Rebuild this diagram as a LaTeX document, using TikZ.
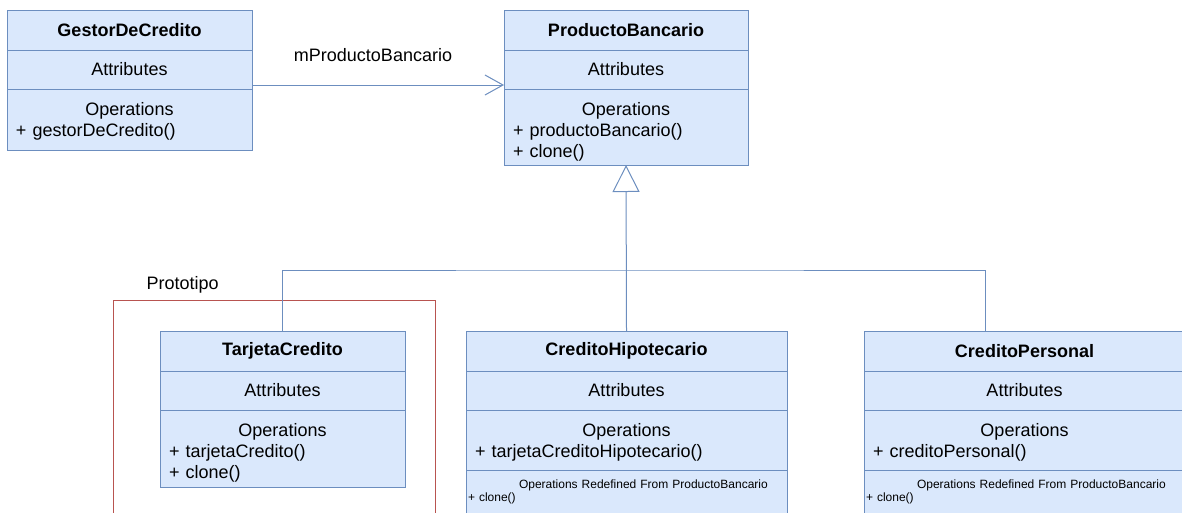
\documentclass[tikz,border=0pt]{standalone}
\usepackage{fontspec}
\setmainfont{Liberation Sans}
\usepackage{tikz}
\usetikzlibrary{positioning, arrows.meta}
\setlength{\parindent}{0pt}
\definecolor{umlfill}{HTML}{DAE8FC}
\definecolor{umldraw}{HTML}{6C8EBF}
\definecolor{protored}{HTML}{B85450}
\tikzset{
	x=1pt, y=-1pt, % pixel units, y grows downwards
	classbox/.style={draw=umldraw, fill=umlfill, line width=1pt, outer sep=0pt, inner sep=0pt, font=\fontsize{18}{21}\selectfont}, % every compartment
	classhead/.style={classbox, minimum height=40pt, font=\bfseries\fontsize{18}{21}\selectfont}, % class name
	classpart/.style={classbox, minimum height=39pt}, % attributes
	classops/.style={classbox, inner xsep=9pt, align=left, text height=26pt}, % operations, first line at a fixed place
	classnote/.style={classbox, inner xsep=2pt, align=left, minimum height=44pt, font=\fontsize{12}{13.5}\selectfont}, % redefined operations
	assoc/.style={draw=umldraw, line width=1pt, -{Straight Barb[length=18pt, width=20pt]}}, % association
	inherit/.style={draw=umldraw, line width=1pt, -{Triangle[length=27pt, width=27pt, fill=white]}}, % generalization
	link/.style={draw=umldraw, line width=1pt},
	protoframe/.style={draw=protored, line width=1pt, minimum width=322pt, minimum height=230pt, anchor=north west},
	plain/.style={font=\fontsize{18}{21}\selectfont},
}

\begin{document}
\begin{tikzpicture}
	\useasboundingbox (0,0) rectangle (1182,512);
	\clip (0,0) rectangle (1182,512);

	\node[protoframe] (proto) at (113,300) {};
	\node[plain, above right=3pt and 30pt of proto.north west] (prototitle) {Prototipo};

	\node[classhead, minimum width=245pt, anchor=north west] (gestor) at (7,10) {GestorDeCredito};
	\node[classpart, minimum width=245pt, below=0pt of gestor] (gestorattr) {Attributes};
	\node[classops, text width=227pt, text depth=35pt, below=0pt of gestorattr] (gestorops) {{\centering Operations\par}+ gestorDeCredito()};

	\node[classhead, minimum width=244pt, anchor=north west] (producto) at (504,10) {ProductoBancario};
	\node[classpart, minimum width=244pt, below=0pt of producto] (productoattr) {Attributes};
	\node[classops, text width=226pt, text depth=50pt, below=0pt of productoattr] (productoops) {{\centering Operations\par}+ productoBancario()\\+ clone()};

	\node[classhead, minimum width=245pt, anchor=north west] (tarjeta) at (160,331) {TarjetaCredito};
	\node[classpart, minimum width=245pt, below=0pt of tarjeta] (tarjetaattr) {Attributes};
	\node[classops, text width=227pt, text depth=51pt, below=0pt of tarjetaattr] (tarjetaops) {{\centering Operations\par}+ tarjetaCredito()\\+ clone()};

	\node[classhead, minimum width=321pt, anchor=north west] (hipo) at (466,331) {CreditoHipotecario};
	\node[classpart, minimum width=321pt, below=0pt of hipo] (hipoattr) {Attributes};
	\node[classops, text width=303pt, text depth=34pt, below=0pt of hipoattr] (hipoops) {{\centering Operations\par}+ tarjetaCreditoHipotecario()};
	\node[classnote, text width=317pt, below=0pt of hipoops] (hiponote) {\hspace*{51pt}Operations Redefined From ProductoBancario\\+ clone()};

	\node[classhead, minimum width=321pt, anchor=north west] (personal) at (864,331) {CreditoPersonal};
	\node[classpart, minimum width=321pt, below=0pt of personal] (personalattr) {Attributes};
	\node[classops, text width=303pt, text depth=34pt, below=0pt of personalattr] (personalops) {{\centering Operations\par}+ creditoPersonal()};
	\node[classnote, text width=317pt, below=0pt of personalops] (personalnote) {\hspace*{51pt}Operations Redefined From ProductoBancario\\+ clone()};

	\coordinate (bus) at (626,270);
	\draw[assoc] ([yshift=4pt]gestorattr.south east) -- node[plain, midway, above=19pt, xshift=-5pt] (assoclabel) {mProductoBancario} ([yshift=4pt]productoattr.south west);
	\draw[inherit] (hipo.north) -- (productoops.south);
	\draw[link] (tarjeta.north) |- (bus) -| ([xshift=-39.5pt]personal.north);
\end{tikzpicture}
\end{document}
